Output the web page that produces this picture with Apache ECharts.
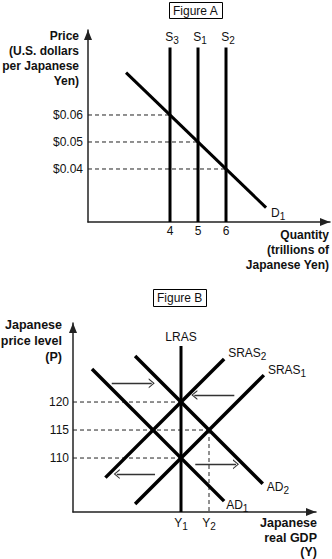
<!DOCTYPE html>
<html><head><meta charset="utf-8">
<script src="https://cdn.jsdelivr.net/npm/echarts@6/dist/echarts.min.js"></script>
<style>html,body{margin:0;padding:0;background:#fff}#c{width:332px;height:559px}</style>
</head><body><div id="c"></div>
<script>
// ---------- Figure A : foreign exchange market ----------
const aQuantityTicks = [4, 5, 6];
const aPriceTicks = [0.04, 0.05, 0.06];
const aSupplySubs = ['3', '1', '2'];          // S3, S1, S2
const aSupplyQty = [4, 5, 6];
const aSupplyTop = 0.085;
const aDemandQty = [2.43, 7.43];
const aDemandPrice = [0.0757, 0.0257];
const aEquilQty = [4, 5, 6];
const aEquilPrice = [0.06, 0.05, 0.04];
const aXRange = [1.071, 9.714];
const aYRange = [0.02037, 0.09148];

// ---------- Figure B : AD / AS ----------
const bGdpTicks = [100, 105];
const bGdpTickSubs = ['1', '2'];
const bPriceTicks = [110, 115, 120];
const bXRange = [80.71, 124.11];
const bYRange = [100.36, 134.11];
const bLrasGdp = 100;
const bLrasTop = 130;
const bSras2Gdp = [86.5, 107.7];
const bSras2Price = [106.5, 127.7];
const bSras1Gdp = [91.8, 114.8];
const bSras1Price = [101.8, 124.8];
const bAd2Gdp = [91.8, 114.6];
const bAd2Price = [128.2, 105.4];
const bAd1Gdp = [84.1, 107.7];
const bAd1Price = [125.9, 102.3];
const bEquilGdp = [100, 105, 100];
const bEquilPrice = [120, 115, 110];
const bArrowFrom = [87.63, 109.52, 95.36, 102.55];
const bArrowTo = [94.77, 102.38, 88.52, 109.82];
const bArrowPrice = [123.34, 121.25, 107.14, 108.88];

const FONT = '"Liberation Sans", Arial, Helvetica, sans-serif';
const INK = '#111';
const subRich = {
  b: {fontSize: 12, color: INK, fontFamily: FONT, lineHeight: 14},
  s: {fontSize: 10, color: INK, fontFamily: FONT, lineHeight: 14, padding: [7, 0, 0, 0]}
};
const dash = {type: [4, 3], width: 1, color: '#222'};
const thick = w => ({width: w, color: '#000', type: 'solid'});

function axisX(grid, range, ticks, fmt, margin) {
  return {type: 'value', gridIndex: grid, min: range[0], max: range[1],
    splitLine: {show: false}, axisTick: {show: false},
    axisLine: {onZero: false, lineStyle: {color: '#222', width: 1.5}, symbol: ['none', 'triangle'], symbolSize: [8, 10], symbolOffset: [0, -5]},
    axisLabel: {customValues: ticks, formatter: fmt, margin: margin, fontSize: 12, color: INK, fontFamily: FONT, rich: subRich}};
}
function axisY(grid, range, ticks, fmt, margin) {
  return {type: 'value', gridIndex: grid, min: range[0], max: range[1],
    splitLine: {show: false}, axisTick: {show: false},
    axisLine: {onZero: false, lineStyle: {color: '#222', width: 1.5}, symbol: ['none', 'triangle'], symbolSize: [8, 10], symbolOffset: [0, -5]},
    axisLabel: {customValues: ticks, formatter: fmt, margin: margin, fontSize: 12, color: INK, fontFamily: FONT}};
}
function seg(xi, pts, style, lastLabel) {
  const data = pts.map(p => ({value: p}));
  if (lastLabel) data[data.length - 1].label = lastLabel;
  return {type: 'line', xAxisIndex: xi, yAxisIndex: xi, data: data,
    symbol: 'circle', symbolSize: 0.1, showSymbol: true, itemStyle: {color: style.color},
    lineStyle: style, silent: true, z: 3, label: {show: false}, emphasis: {disabled: true}};
}
function lbl(text, position, offset) {
  return {show: true, position: position, offset: offset || [0, 0], distance: 2, formatter: text, rich: subRich,
    fontSize: 12, color: INK, fontFamily: FONT};
}

const series = [];
// Figure A dashed guides
aEquilPrice.forEach((p, i) => series.push(seg(0, [[aXRange[0], p], [aEquilQty[i], p]], dash)));
// Supply lines
aSupplyQty.forEach((q, i) => series.push(seg(0, [[q, aYRange[0]], [q, aSupplyTop]], thick(3),
  lbl('{b|S}{s|' + aSupplySubs[i] + '}', 'top', [2, -1]))));
// Demand
series.push(seg(0, [[aDemandQty[0], aDemandPrice[0]], [aDemandQty[1], aDemandPrice[1]]], thick(3),
  lbl('{b|D}{s|1}', 'right', [3, 5])));

// Figure B dashed guides
bEquilPrice.forEach((p, i) => series.push(seg(1, [[bXRange[0], p], [bEquilGdp[i], p]], dash)));
series.push(seg(1, [[bEquilGdp[1], bEquilPrice[1]], [bEquilGdp[1], bYRange[0]]], dash));
// LRAS with shift arrows
const lras = seg(1, [[bLrasGdp, bYRange[0]], [bLrasGdp, bLrasTop]], thick(3), lbl('{b|LRAS}', 'top', [0, 0]));
lras.markLine = {silent: true, animation: false,
  symbol: ['none', 'path://M0,10 L5,0 L10,10 L8.6,10 L5,2.6 L1.4,10 Z'], symbolSize: [10, 6],
  label: {show: false}, emphasis: {disabled: true},
  lineStyle: {type: 'solid', color: '#333', width: 1.3},
  data: bArrowPrice.map((p, i) => [{coord: [bArrowFrom[i], p]}, {coord: [bArrowTo[i], p]}])};
series.push(lras);
series.push(seg(1, [[bSras2Gdp[0], bSras2Price[0]], [bSras2Gdp[1], bSras2Price[1]]], thick(3.5), lbl('{b|SRAS}{s|2}', 'right', [2, -6])));
series.push(seg(1, [[bSras1Gdp[0], bSras1Price[0]], [bSras1Gdp[1], bSras1Price[1]]], thick(3.5), lbl('{b|SRAS}{s|1}', 'right', [2, -5])));
series.push(seg(1, [[bAd2Gdp[0], bAd2Price[0]], [bAd2Gdp[1], bAd2Price[1]]], thick(3.5), lbl('{b|AD}{s|2}', 'right', [2, 3])));
series.push(seg(1, [[bAd1Gdp[0], bAd1Price[0]], [bAd1Gdp[1], bAd1Price[1]]], thick(3.5), lbl('{b|AD}{s|1}', 'right', [0, 4])));

const titleFont = {fontSize: 12, fontWeight: 'normal', color: INK, fontFamily: FONT};
const bold = 'bold 12px ' + FONT;
const boldB = 'bold 12.5px ' + FONT;
const option = {
  animation: false,
  backgroundColor: '#fff',
  textStyle: {fontFamily: FONT, color: INK},
  title: [
    {text: 'Figure A', left: 169, top: 2, borderWidth: 1, borderColor: '#000', padding: [3, 4, 2, 4], textStyle: titleFont},
    {text: 'Figure B', left: 153, top: 289, borderWidth: 1, borderColor: '#000', padding: [3, 4, 3, 4], textStyle: titleFont}
  ],
  grid: [
    {left: 88, top: 30, width: 242, height: 192},
    {left: 73, top: 323, width: 243, height: 189}
  ],
  xAxis: [
    axisX(0, aXRange, aQuantityTicks, v => String(v), 3),
    axisX(1, bXRange, bGdpTicks, v => '{b|Y}{s|' + bGdpTickSubs[bGdpTicks.indexOf(v)] + '}', 4)
  ],
  yAxis: [
    axisY(0, aYRange, aPriceTicks, v => '$' + v.toFixed(2), 5),
    axisY(1, bYRange, bPriceTicks, v => String(v), 4)
  ],
  graphic: [
    {type: 'text', silent: true, style: {text: 'Price\n(U.S. dollars\nper Japanese\nYen)', x: 79, y: 28, align: 'right', verticalAlign: 'top', font: bold, lineHeight: 15, fill: INK}},
    {type: 'text', silent: true, style: {text: 'Quantity\n(trillions of\nJapanese Yen)', x: 329, y: 227, align: 'right', verticalAlign: 'top', font: bold, lineHeight: 15, fill: INK}},
    {type: 'text', silent: true, style: {text: 'Japanese\nprice level\n(P)', x: 62, y: 317, align: 'right', verticalAlign: 'top', font: boldB, lineHeight: 16, fill: INK}},
    {type: 'text', silent: true, style: {text: 'Japanese\nreal GDP\n(Y)', x: 317, y: 516, align: 'right', verticalAlign: 'top', font: boldB, lineHeight: 14.5, fill: INK}}
  ],
  series: series
};
const chart = echarts.init(document.getElementById('c'), null, {renderer: 'svg', width: 332, height: 559});
chart.setOption(option);
</script></body></html>
